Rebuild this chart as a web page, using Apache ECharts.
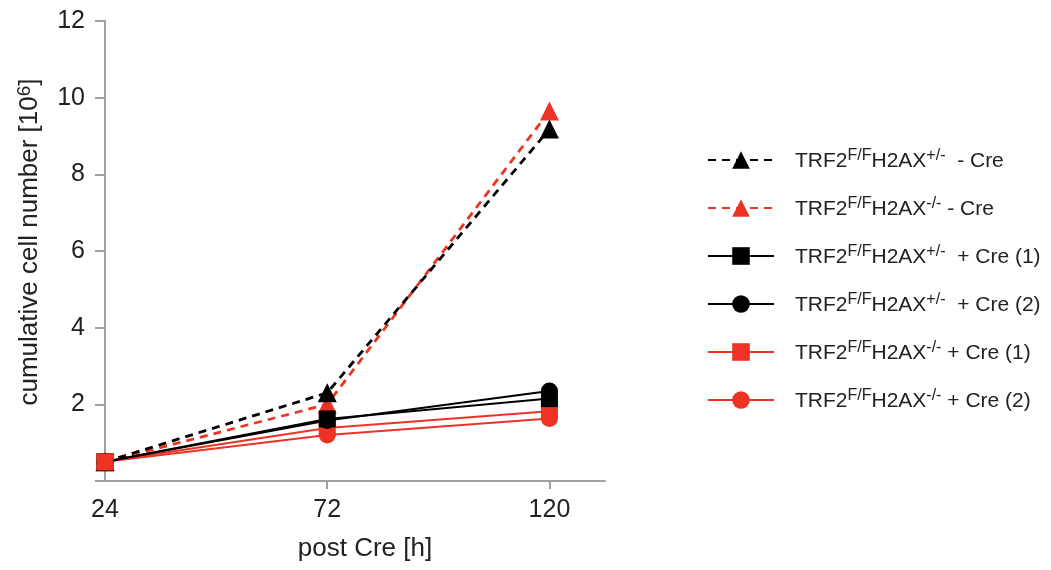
<!DOCTYPE html>
<html><head><meta charset="utf-8">
<script src="https://cdn.jsdelivr.net/npm/echarts@6/dist/echarts.min.js"></script>
<style>html,body{margin:0;padding:0;background:#fff}#c{width:1051px;height:570px}</style>
</head><body><div id="c"></div>
<script>
// ---- data ----
const hours = [24, 72, 120];
const xTickValues = [72, 120];
const xLabelValues = [24, 72, 120];
const yMin = 0, yMax = 12, yStep = 2;

const hetMinusCre = [0.5, 2.3, 9.18];   // TRF2F/F H2AX+/- - Cre
const koMinusCre  = [0.5, 2.0, 9.65];   // TRF2F/F H2AX-/- - Cre
const hetCre1     = [0.5, 1.62, 2.15];  // TRF2F/F H2AX+/- + Cre (1)
const hetCre2     = [0.5, 1.58, 2.35];  // TRF2F/F H2AX+/- + Cre (2)
const koCre1      = [0.5, 1.38, 1.82];  // TRF2F/F H2AX-/- + Cre (1)
const koCre2      = [0.5, 1.20, 1.63];  // TRF2F/F H2AX-/- + Cre (2)

const names = ['het - Cre', 'ko - Cre', 'het + Cre (1)', 'het + Cre (2)', 'ko + Cre (1)', 'ko + Cre (2)'];
const genotypes = ['+/-', '-/-', '+/-', '+/-', '-/-', '-/-'];
const conditions = ['  - Cre', ' - Cre', '  + Cre (1)', '  + Cre (2)', ' + Cre (1)', ' + Cre (2)'];

// ---- styling ----
const RED = '#ee3324', BLACK = '#000000', AXIS = '#a0a0a0', TXT = '#222222';
const FONT = '"Liberation Sans", Arial, sans-serif';

function pts(arr) { return arr.map((v, i) => [hours[i], v]); }

function mk(name, arr, color, symbol, dashed, z) {
  return {
    name: name, type: 'line', data: pts(arr), z: z,
    symbol: symbol, symbolSize: symbol === 'triangle' ? 19 : 17,
    itemStyle: { color: color, opacity: 1 },
    lineStyle: { color: color, width: dashed ? 2.8 : 2, type: dashed ? [8, 6] : 'solid' },
    emphasis: { disabled: true },
    animation: false
  };
}

const series = [
  mk(names[1], koMinusCre, RED, 'triangle', true, 2),
  mk(names[0], hetMinusCre, BLACK, 'triangle', true, 2),
  mk(names[5], koCre2, RED, 'circle', false, 2),
  mk(names[4], koCre1, RED, 'rect', false, 2),
  mk(names[3], hetCre2, BLACK, 'circle', false, 2),
  mk(names[2], hetCre1, BLACK, 'rect', false, 2),
  { type: 'scatter', data: [[hours[0], koCre1[0]]], symbol: 'rect', symbolSize: 17,
    itemStyle: { color: RED, opacity: 1 }, emphasis: { disabled: true }, z: 5, silent: true, animation: false }
];

const legendRich = {
  n: { fontSize: 21, fontFamily: FONT, color: TXT, lineHeight: 24, verticalAlign: 'bottom' },
  s: { fontSize: 16, fontFamily: FONT, color: TXT, lineHeight: 14, verticalAlign: 'top' }
};

const option = {
  backgroundColor: '#ffffff',
  animation: false,
  grid: { left: 105, right: 446, top: 21, bottom: 89, containLabel: false },
  xAxis: {
    type: 'value', min: 24, max: 132,
    name: 'post Cre [h]', nameLocation: 'middle', nameGap: 55,
    nameTextStyle: { fontSize: 26, fontFamily: FONT, color: TXT, padding: [0, 0, 0, 20] },
    axisLine: { show: true, lineStyle: { color: AXIS, width: 2 } },
    axisTick: { show: true, length: 8, customValues: xTickValues, lineStyle: { color: AXIS, width: 2 } },
    axisLabel: { customValues: xLabelValues, fontSize: 25, fontFamily: FONT, color: TXT, margin: 17 },
    splitLine: { show: false }
  },
  yAxis: {
    type: 'value', min: yMin, max: yMax, interval: yStep,
    name: '{a|cumulative cell number [10}{b|6}{a|]}', nameLocation: 'middle', nameGap: 62,
    nameTextStyle: { fontFamily: FONT, color: TXT, padding: [0, 0, 0, 18],
      rich: { a: { fontSize: 26, fontFamily: FONT, color: TXT, lineHeight: 28, verticalAlign: 'bottom' },
              b: { fontSize: 19, fontFamily: FONT, color: TXT, lineHeight: 16, verticalAlign: 'top' } } },
    axisLine: { show: true, lineStyle: { color: AXIS, width: 2 } },
    axisTick: { show: true, length: 10, lineStyle: { color: AXIS, width: 2 } },
    axisLabel: { fontSize: 25, fontFamily: FONT, color: TXT, margin: 20,
      formatter: v => (v === 0 ? '' : String(v)) },
    splitLine: { show: false }
  },
  legend: {
    orient: 'vertical', left: 702, top: 143, itemWidth: 66, itemHeight: 22, itemGap: 24,
    data: names,
    selectedMode: false,
    formatter: function (name) {
      const i = names.indexOf(name);
      return '{n|TRF2}{s|F/F}{n|H2AX}{s|' + genotypes[i] + '}{n|' + conditions[i] + '}';
    },
    textStyle: { rich: legendRich, padding: [0, 0, 0, 16] }
  },
  series: series
};

const chart = echarts.init(document.getElementById('c'), null, { renderer: 'canvas' });
chart.setOption(option);
</script>
</body></html>
